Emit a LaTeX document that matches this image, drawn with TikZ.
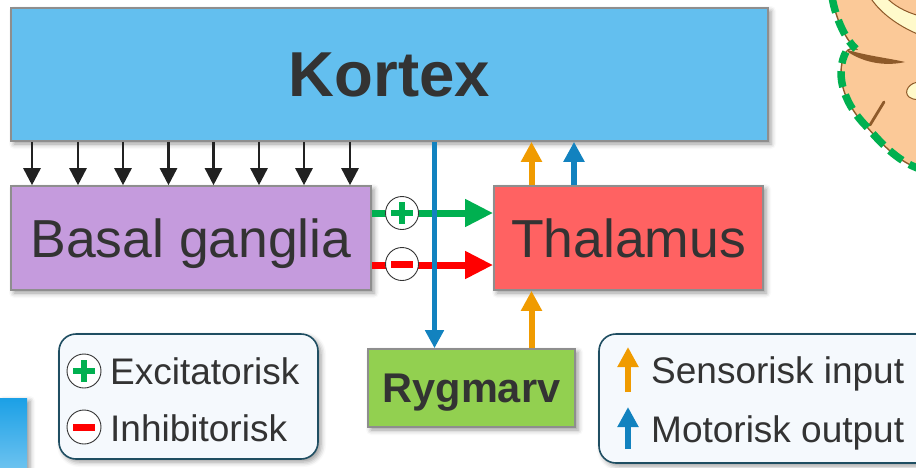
\documentclass[tikz,border=0pt]{standalone}
\usepackage{fontspec}
\setmainfont{Liberation Sans}
\usetikzlibrary{arrows.meta,shadows.blur}

\definecolor{kortexc}{HTML}{63BFEF}
\definecolor{basalc}{HTML}{C59BDD}
\definecolor{thalc}{HTML}{FF6262}
\definecolor{rygc}{HTML}{92D050}
\definecolor{boxline}{HTML}{8E8E8E}
\definecolor{txt}{HTML}{333333}
\definecolor{exgreen}{HTML}{00B050}
\definecolor{inred}{HTML}{FF0000}
\definecolor{motblue}{HTML}{1282BF}
\definecolor{senorange}{HTML}{F09B00}
\definecolor{legline}{HTML}{1F4E62}
\definecolor{legfill}{HTML}{F5F9FD}
\definecolor{brainfill}{HTML}{FBC998}
\definecolor{brainline}{HTML}{8E5A2A}
\definecolor{brainpale}{HTML}{FFFACB}
\definecolor{tabtop}{HTML}{1BA0E6}
\definecolor{tabbot}{HTML}{6EC3F0}

\tikzset{
  softshadow/.style={blur shadow={shadow xshift=3pt, shadow yshift=-3pt,
      shadow blur radius=5pt, shadow opacity=40}},
  region/.style={draw=boxline, line width=1.6pt, softshadow, text=txt,
      inner sep=0pt, text depth=0pt},
  bigtxt/.style={font=\fontsize{53.5}{60}\selectfont},
  legendbox/.style={draw=legline, fill=legfill, line width=1.6pt,
      rounded corners=17pt, softshadow},
  legtxt/.style={anchor=west, text=txt, inner sep=0pt, text depth=0pt,
      font=\fontsize{37}{42}\selectfont},
  projarrow/.style={draw=black!87, line width=2.6pt,
      -{Triangle[width=17pt,length=17pt]}},
  fatarrow/.style={line width=7pt, -{Triangle[width=26pt,length=28pt]}},
  thinarrow/.style={line width=6pt, -{Triangle[width=20pt,length=20pt]}},
  signdisc/.style={circle, draw=black!80, fill=white, line width=0.9pt,
      minimum size=33pt, inner sep=0pt},
  pics/plusmark/.style={code={
      \fill[exgreen] (-11pt,-3.4pt) rectangle (11pt,3.4pt);
      \fill[exgreen] (-3.4pt,-11pt) rectangle (3.4pt,11pt);}},
  pics/minusmark/.style={code={
      \fill[inred] (-11pt,-3.5pt) rectangle (11pt,3.5pt);}},
}

\begin{document}
\begin{tikzpicture}[x=1pt,y=-1pt]
\useasboundingbox (0,0) rectangle (916,467);
\begin{scope}
\clip (0,0) rectangle (916,467);

% brain outline peeking in at the upper right
\fill[brainfill] (832,-3) .. controls (836,20) and (846,40) .. (856,49)
  -- (846,52) .. controls (836,70) and (840,100) .. (867,127)
  .. controls (885,148) and (900,162) .. (920,169) -- (930,170) -- (930,-5) -- cycle;
\fill[brainpale, draw=brainline, line width=1pt]
  (870,-3) .. controls (878,10) and (895,25) .. (920,35) -- (920,16)
  .. controls (905,12) and (893,5) .. (886,-3) -- cycle;
\fill[brainpale, draw=brainline, line width=1pt]
  (920,82) .. controls (909,82) and (903,92) .. (909,97)
  .. controls (912,99) .. (920,100) -- cycle;
\fill[brainline] (848,50) .. controls (868,56) and (888,58) .. (905,62)
  .. controls (888,66) and (866,64) .. (848,52) -- cycle;
\draw[brainline, line width=2.8pt, line cap=round] (870,125) -- (884,102);
\draw[brainline, line width=1.4pt] (832,-3) .. controls (836,20) and (846,40) .. (856,49)
  .. controls (852,48) and (848,49) .. (846,52)
  .. controls (836,70) and (840,100) .. (867,127)
  .. controls (885,148) and (900,162) .. (920,169);
\draw[exgreen, line width=7.5pt, dash pattern=on 16pt off 8pt]
  (832,-3) .. controls (836,20) and (846,40) .. (856,49);
\draw[exgreen, line width=7.5pt, dash pattern=on 16pt off 8pt, dash phase=4pt]
  (846,52) .. controls (836,70) and (840,100) .. (867,127)
  .. controls (885,148) and (900,162) .. (920,169);

% blue tab at the lower left
\shade[top color=tabtop, bottom color=tabbot, softshadow] (0,398) rectangle (27,470);

% legends
\draw[legendbox] (59,334) rectangle (318,459);
\draw[legendbox] (599,334) rectangle (940,463);
\end{scope}

% regions
\node[region, fill=kortexc, minimum width=757pt, minimum height=133pt,
      font=\bfseries\fontsize{63.5}{70}\selectfont] (k) at (389.5,74.5) {Kortex};
\node[region, fill=basalc, bigtxt, minimum width=360pt, minimum height=104pt]
      (bg) at (191,238) {Basal ganglia};
\node[region, fill=thalc, bigtxt, minimum width=269pt, minimum height=104pt]
      (th) at (628.5,238) {Thalamus};
\node[region, fill=rygc, minimum width=207pt, minimum height=78pt,
      font=\bfseries\fontsize{41.5}{46}\selectfont] (rm) at (471.5,388) {Rygmarv};

% cortical projections onto the basal ganglia
\foreach \x in {32,78,123,168.5,213.5,259,304,350}
  \draw[projarrow] (\x,0 |- k.south) -- (\x,0 |- bg.north);

% basal ganglia -> thalamus
\draw[fatarrow, exgreen] ([yshift=25pt]bg.east) -- ([yshift=25pt]th.west);
\draw[fatarrow, inred] ([yshift=-27pt]bg.east) -- ([yshift=-27pt]th.west);
\node[signdisc] (pl) at (402,213) {};
\pic at (pl) {plusmark};
\node[signdisc] (mi) at (402,264) {};
\pic at (mi) {minusmark};

% motor output to the spinal cord
\coordinate (mx) at (434.5,300);
\draw[motblue, line width=5.5pt, -{Triangle[width=18pt,length=18pt]}]
  (mx |- k.south) -- (mx |- rm.north);

% ascending pathways
\coordinate (sx) at (531.5,300);
\coordinate (ox) at (574,300);
\draw[thinarrow, senorange] (sx |- rm.north) -- (sx |- th.south);
\draw[thinarrow, senorange] (sx |- th.north) -- (sx |- k.south);
\draw[thinarrow, motblue] (ox |- th.north) -- (ox |- k.south);

% legend: synapse sign
\node[signdisc, minimum size=34pt] (lp) at (84,371) {};
\pic at (lp) {plusmark};
\node[legtxt] (lpt) at (110,371) {Excitatorisk};
\node[signdisc, minimum size=34pt] (lm) at (84,427) {};
\pic at (lm) {minusmark};
\node[legtxt] (lmt) at (110,428) {Inhibitorisk};

% legend: pathway direction
\coordinate (sa) at (628,392);
\coordinate (sb) at (628,347);
\coordinate (ma) at (628,449);
\coordinate (mb) at (628,407);
\draw[thinarrow, senorange] (sa) -- (sb);
\draw[thinarrow, motblue] (ma) -- (mb);
\node[legtxt] (st) at (651,370) {Sensorisk input};
\node[legtxt] (mt) at (651,429) {Motorisk output};
\end{tikzpicture}
\end{document}
